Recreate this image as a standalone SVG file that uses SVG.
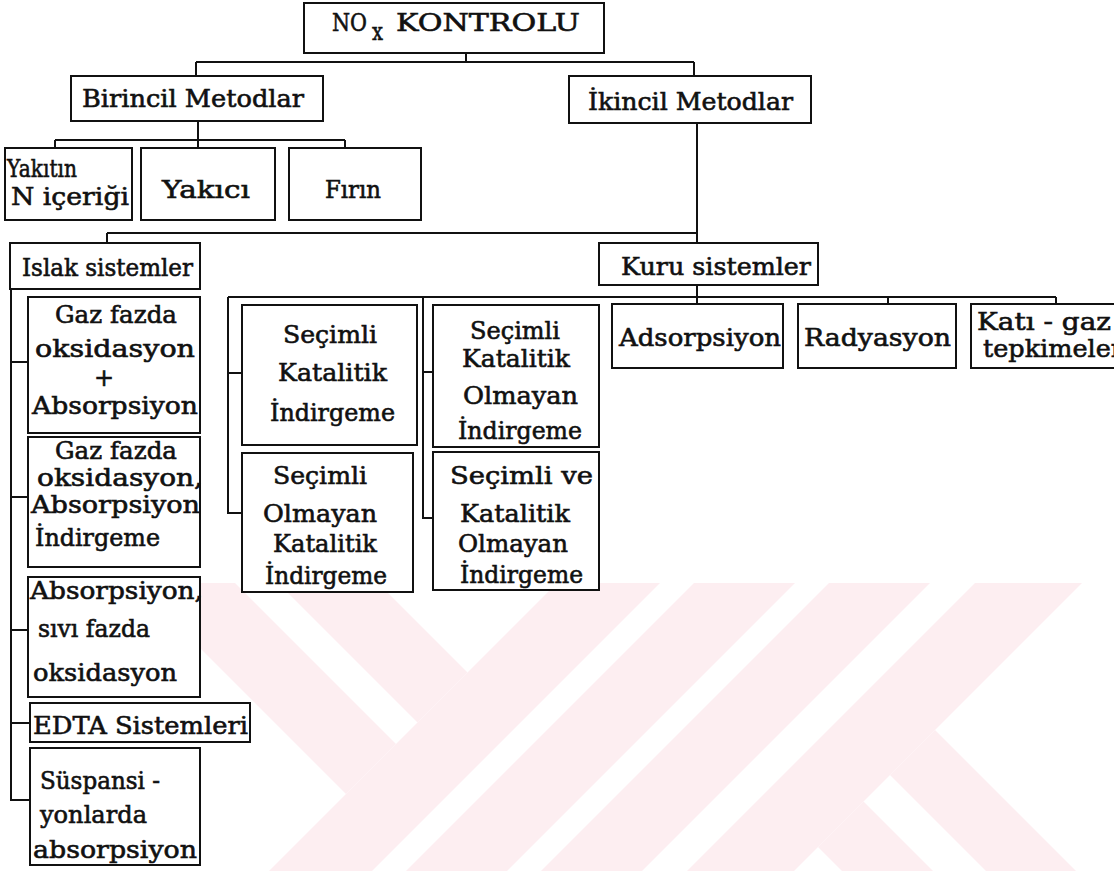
<svg xmlns="http://www.w3.org/2000/svg" width="1114" height="871" viewBox="0 0 1114 871">
<style>
.box{fill:#fff;stroke:#111;stroke-width:2}
.ln{fill:none;stroke:#111;stroke-width:2}
text{font-family:"DejaVu Serif","Liberation Serif",serif;font-size:24px;fill:#111;stroke:#111;stroke-width:0.6}
.wm{fill:#fdeef1}
</style>
<defs>
<clipPath id="wmclip"><rect x="0" y="583" width="1114" height="288"/></clipPath>
</defs>
<rect x="0" y="0" width="1114" height="871" fill="#fff"/>
<g id="watermark" clip-path="url(#wmclip)">
<polygon class="wm" points="135,583 235,583 396,744 346,794"/>
<polygon class="wm" points="278,583 378,583 467.5,672.5 417.5,722.5"/>
<polygon class="wm" points="557,583 660,583 372,871 269,871"/>
<polygon class="wm" points="694,583 795,583 507,871 406,871"/>
<polygon class="wm" points="829,583 930,583 642,871 541,871"/>
<polygon class="wm" points="975,583 1082,583 794,871 687,871"/>
<polygon class="wm" points="935,730 1076,871 986,871 890,775"/>
<polygon class="wm" points="863.5,801.5 933,871 842,871 818,847"/>
</g>
<g id="connectors">
<path class="ln" d="M466 53V62M196 62H694M196 62V76M694 62V76"/>
<path class="ln" d="M198 121V148M55 140H345M55 140V148M345 140V148"/>
<path class="ln" d="M697 123V243M107 233H697M107 233V243"/>
<path class="ln" d="M11 289V800H30M11 362H28M11 497H28M11 630H28M11 723H30"/>
<path class="ln" d="M697 285V304M228 297H1056M888 297V304M1056 297V304"/>
<path class="ln" d="M228 297V513H242M228 373H242"/>
<path class="ln" d="M423 297V518H433M423 372H433"/>
</g>
<g id="n-root">
<rect class="box" x="304" y="3" width="300" height="50"/>
<text x="332" y="31" font-size="25" textLength="35" lengthAdjust="spacingAndGlyphs">NO</text>
<text x="372" y="40" font-size="17" textLength="11" lengthAdjust="spacingAndGlyphs">x</text>
<text x="396" y="31" font-size="25" textLength="184" lengthAdjust="spacingAndGlyphs">KONTROLU</text>
</g>
<g id="n-birincil">
<rect class="box" x="71" y="76" width="252" height="45"/>
<text x="82" y="107" textLength="222" lengthAdjust="spacingAndGlyphs">Birincil Metodlar</text>
</g>
<g id="n-ikincil">
<rect class="box" x="569" y="76" width="242" height="47"/>
<text x="588" y="110" textLength="205" lengthAdjust="spacingAndGlyphs">İkincil Metodlar</text>
</g>
<g id="n-yakitin">
<rect class="box" x="5" y="148" width="127" height="72"/>
<text x="7" y="177" textLength="70" lengthAdjust="spacingAndGlyphs">Yakıtın</text>
<text x="11" y="205" textLength="118" lengthAdjust="spacingAndGlyphs">N içeriği</text>
</g>
<g id="n-yakici">
<rect class="box" x="141" y="148" width="134" height="72"/>
<text x="162" y="198" textLength="88" lengthAdjust="spacingAndGlyphs">Yakıcı</text>
</g>
<g id="n-firin">
<rect class="box" x="289" y="148" width="132" height="72"/>
<text x="325" y="198" textLength="56" lengthAdjust="spacingAndGlyphs">Fırın</text>
</g>
<g id="n-islak">
<rect class="box" x="10" y="243" width="190" height="46"/>
<text x="22" y="276" textLength="171" lengthAdjust="spacingAndGlyphs">Islak sistemler</text>
</g>
<g id="n-kuru">
<rect class="box" x="599" y="243" width="219" height="42"/>
<text x="621" y="275" textLength="190" lengthAdjust="spacingAndGlyphs">Kuru sistemler</text>
</g>
<g id="n-gaz1">
<rect class="box" x="28" y="297" width="172" height="136"/>
<text x="55" y="323" textLength="122" lengthAdjust="spacingAndGlyphs">Gaz fazda</text>
<text x="35" y="357" textLength="160" lengthAdjust="spacingAndGlyphs">oksidasyon</text>
<text x="104" y="386" font-size="13" text-anchor="middle">+</text>
<text x="32" y="414" textLength="166" lengthAdjust="spacingAndGlyphs">Absorpsiyon</text>
</g>
<g id="n-gaz2">
<rect class="box" x="28" y="437" width="172" height="130"/>
<text x="55" y="459" textLength="122" lengthAdjust="spacingAndGlyphs">Gaz fazda</text>
<text x="37" y="486" textLength="166" lengthAdjust="spacingAndGlyphs">oksidasyon,</text>
<text x="31" y="513" textLength="169" lengthAdjust="spacingAndGlyphs">Absorpsiyon</text>
<text x="35" y="546" textLength="125" lengthAdjust="spacingAndGlyphs">İndirgeme</text>
</g>
<g id="n-abs">
<rect class="box" x="28" y="577" width="172" height="120"/>
<text x="30" y="599" textLength="173" lengthAdjust="spacingAndGlyphs">Absorpsiyon,</text>
<text x="38" y="637" textLength="112" lengthAdjust="spacingAndGlyphs">sıvı fazda</text>
<text x="33" y="681" textLength="144" lengthAdjust="spacingAndGlyphs">oksidasyon</text>
</g>
<g id="n-edta">
<rect class="box" x="30" y="703" width="220" height="39"/>
<text x="33" y="734" textLength="215" lengthAdjust="spacingAndGlyphs">EDTA Sistemleri</text>
</g>
<g id="n-susp">
<rect class="box" x="30" y="748" width="170" height="117"/>
<text x="40" y="789" textLength="120" lengthAdjust="spacingAndGlyphs">Süspansi -</text>
<text x="40" y="823" textLength="107" lengthAdjust="spacingAndGlyphs">yonlarda</text>
<text x="33" y="858" textLength="164" lengthAdjust="spacingAndGlyphs">absorpsiyon</text>
</g>
<g id="n-ski">
<rect class="box" x="242" y="305" width="175" height="140"/>
<text x="283" y="343" textLength="94" lengthAdjust="spacingAndGlyphs">Seçimli</text>
<text x="278" y="381" textLength="109" lengthAdjust="spacingAndGlyphs">Katalitik</text>
<text x="270" y="421" textLength="125" lengthAdjust="spacingAndGlyphs">İndirgeme</text>
</g>
<g id="n-soki">
<rect class="box" x="242" y="453" width="171" height="139"/>
<text x="273" y="484" textLength="94" lengthAdjust="spacingAndGlyphs">Seçimli</text>
<text x="263" y="522" textLength="114" lengthAdjust="spacingAndGlyphs">Olmayan</text>
<text x="273" y="552" textLength="104" lengthAdjust="spacingAndGlyphs">Katalitik</text>
<text x="265" y="584" textLength="122" lengthAdjust="spacingAndGlyphs">İndirgeme</text>
</g>
<g id="n-skoi">
<rect class="box" x="433" y="305" width="166" height="142"/>
<text x="470" y="339" textLength="90" lengthAdjust="spacingAndGlyphs">Seçimli</text>
<text x="462" y="367" textLength="108" lengthAdjust="spacingAndGlyphs">Katalitik</text>
<text x="463" y="404" textLength="115" lengthAdjust="spacingAndGlyphs">Olmayan</text>
<text x="458" y="439" textLength="124" lengthAdjust="spacingAndGlyphs">İndirgeme</text>
</g>
<g id="n-svkoi">
<rect class="box" x="433" y="452" width="166" height="138"/>
<text x="450" y="484" textLength="143" lengthAdjust="spacingAndGlyphs">Seçimli  ve</text>
<text x="460" y="522" textLength="110" lengthAdjust="spacingAndGlyphs">Katalitik</text>
<text x="458" y="552" textLength="110" lengthAdjust="spacingAndGlyphs">Olmayan</text>
<text x="460" y="583" textLength="123" lengthAdjust="spacingAndGlyphs">İndirgeme</text>
</g>
<g id="n-adsorpsiyon">
<rect class="box" x="612" y="304" width="171" height="64"/>
<text x="619" y="346" textLength="162" lengthAdjust="spacingAndGlyphs">Adsorpsiyon</text>
</g>
<g id="n-radyasyon">
<rect class="box" x="798" y="304" width="158" height="64"/>
<text x="804" y="346" textLength="147" lengthAdjust="spacingAndGlyphs">Radyasyon</text>
</g>
<g id="n-katigaz">
<rect class="box" x="971" y="304" width="150" height="64"/>
<text x="977" y="330" font-size="18" textLength="134" lengthAdjust="spacingAndGlyphs">Katı - gaz</text>
<text x="983" y="357" font-size="18" textLength="140" lengthAdjust="spacingAndGlyphs">tepkimeler</text>
</g>
</svg>
